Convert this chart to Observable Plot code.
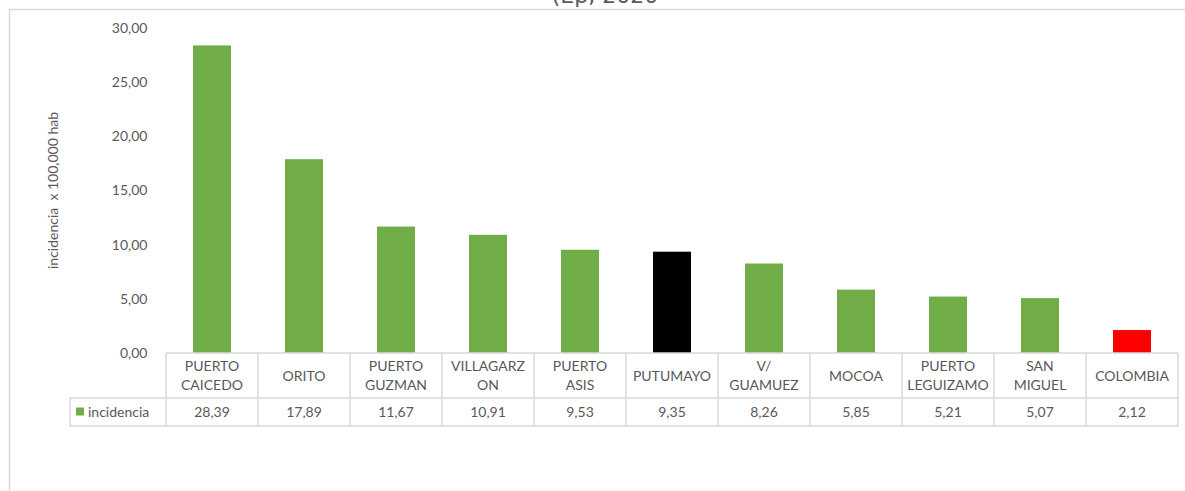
<!DOCTYPE html>
<html><head><meta charset="utf-8">
<script src="https://cdn.jsdelivr.net/npm/d3@7"></script>
<script src="https://cdn.jsdelivr.net/npm/@observablehq/plot@0.6"></script>
<style>body{margin:0;background:#fff;overflow:hidden}</style>
</head><body><div id="chart"></div>
<script>
const categories = ["PUERTO\nCAICEDO","ORITO","PUERTO\nGUZMAN","VILLAGARZ\nON","PUERTO\nASIS","PUTUMAYO","V/\nGUAMUEZ","MOCOA","PUERTO\nLEGUIZAMO","SAN\nMIGUEL","COLOMBIA"];
const values = [28.39,17.89,11.67,10.91,9.53,9.35,8.26,5.85,5.21,5.07,2.12];
const yTicks = [0,5,10,15,20,25,30];
const seriesName = "incidencia";
const yLabel = "incidencia  x 100,000 hab";
const titleText = "(Ep, 2020";

const data = categories.map((c,i)=>({cat:c, value:values[i]}));
const colorOf = c => c === "PUTUMAYO" ? "#000000" : c === "COLOMBIA" ? "#FF0000" : "#70AD47";
const fmt = v => v.toFixed(2).replace(".", ",");
const FONT = "Lato, 'Open Sans', sans-serif";
const TXT = "#595959";
const GRID = "#d9d9d9";

function tableMark(index, scales, values_, dims) {
  const x = scales.x, y = scales.y;
  const bw = x.bandwidth();
  const step = x.step();
  const g = d3.create("svg:g").attr("font-family", FONT).attr("fill", TXT);
  const y0 = y(0);
  const rowH1 = 45, rowH2 = 28;
  const left = x(categories[0]) - (step - bw)/2;
  const right = left + step*categories.length;
  const legendLeft = left - 96;
  // outer chart border
  g.append("path").attr("d", `M9.5,${dims.height}V9.5H${dims.width}`).attr("fill","none").attr("stroke", GRID).attr("stroke-width",1.5);
  // title (clipped at the top, as in the source)
  g.append("text").attr("x", 605).attr("y", 3)
    .attr("text-anchor","middle").attr("font-size", 22).attr("fill", TXT).attr("font-family","'DejaVu Sans', sans-serif").text(titleText);
  // y label
  g.append("text").attr("transform", `translate(58,${(y(30)+y0)/2}) rotate(-90)`).attr("text-anchor","middle")
    .attr("font-size",14).text(yLabel);
  const lines = g.append("g").attr("stroke", GRID).attr("stroke-width",1.5).attr("fill","none");
  const yA = y0, yB = y0 + rowH1, yC = y0 + rowH1 + rowH2;
  lines.append("path").attr("d", `M${left},${yA}H${right}M${legendLeft},${yB}H${right}M${legendLeft},${yC}H${right}M${legendLeft},${yB}V${yC}`);
  for (let i = 0; i <= categories.length; i++) {
    const xx = left + i*step;
    lines.append("path").attr("d", `M${xx},${yA}V${yC}`);
  }
  categories.forEach((c,i) => {
    const cx = x(c) + bw/2;
    const parts = c.split("\n");
    const t = g.append("text").attr("text-anchor","middle").attr("font-size",14);
    parts.forEach((p,j) => {
      t.append("tspan").attr("x", cx).attr("y", yA + rowH1/2 + 5 + (j - (parts.length-1)/2)*19).text(p);
    });
    g.append("text").attr("x", cx).attr("y", yB + rowH2/2 + 5).attr("text-anchor","middle").attr("font-size",14).text(fmt(values[i]));
  });
  g.append("rect").attr("x", legendLeft+6).attr("y", yB + rowH2/2 - 4.5).attr("width",8).attr("height",8).attr("fill","#70AD47");
  g.append("text").attr("x", legendLeft+18).attr("y", yB + rowH2/2 + 5).attr("text-anchor","start").attr("font-size",14).text(seriesName);
  return g.node();
}

const chart = Plot.plot({
  width: 1185,
  height: 491,
  marginLeft: 163,
  marginRight: 5,
  marginTop: 28,
  marginBottom: 138,
  style: {fontFamily: FONT, fontSize: "14px", color: TXT, background: "#fff"},
  x: {domain: categories, paddingInner: 0.59, paddingOuter: 0.295, axis: null},
  y: {domain: [0, 30], axis: null},
  marks: [
    Plot.barY(data, {x: "cat", y: "value", fill: d => colorOf(d.cat)}),
    Plot.axisY({ticks: yTicks, tickFormat: fmt, tickSize: 0, tickPadding: 16, label: null, fontSize: 14, fill: TXT}),
    tableMark
  ]
});
document.getElementById("chart").appendChild(chart);
</script>
</body></html>
